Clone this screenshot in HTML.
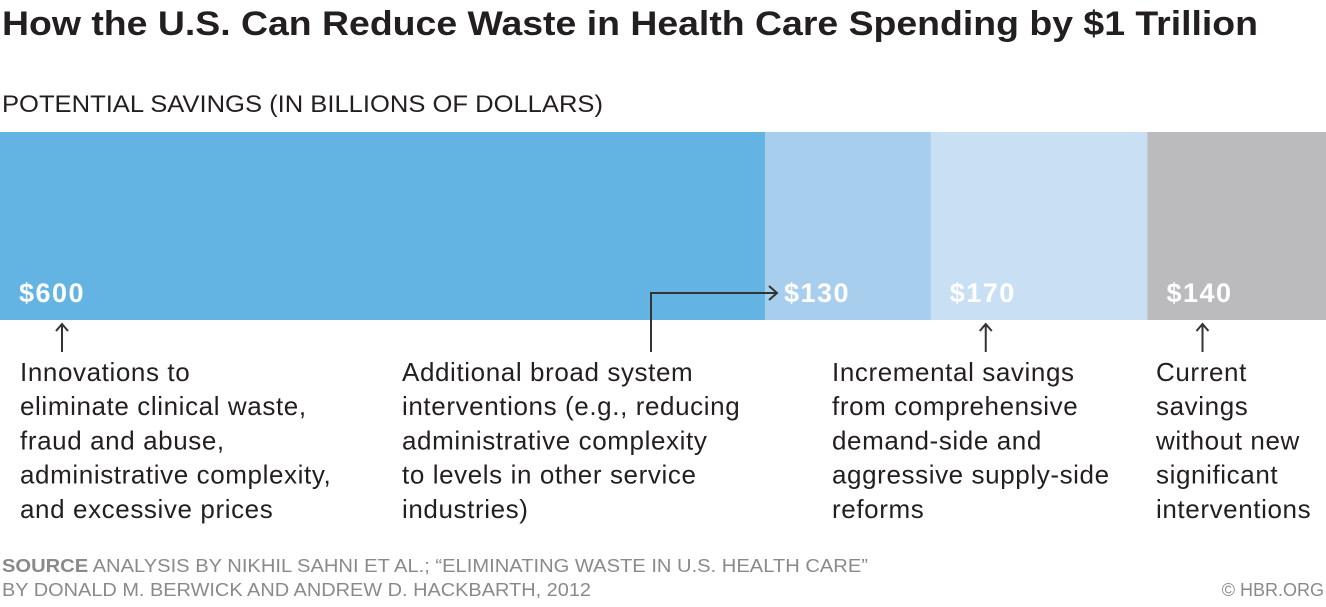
<!DOCTYPE html>
<html><head><meta charset="utf-8"><style>
body{margin:0;width:1326px;height:602px;background:#fff;overflow:hidden;font-family:"Liberation Sans",sans-serif;}
</style></head><body>
<svg width="1326" height="602" viewBox="0 0 1326 602">
<text x="2" y="35" font-size="34" font-weight="bold" fill="#231f20" textLength="1256" lengthAdjust="spacingAndGlyphs">How the U.S. Can Reduce Waste in Health Care Spending by $1 Trillion</text>
<text x="2" y="112" font-size="24" fill="#231f20" textLength="601" lengthAdjust="spacingAndGlyphs">POTENTIAL SAVINGS (IN BILLIONS OF DOLLARS)</text>
<g id="bars"></g>
<g id="notes" font-size="26" fill="#231f20" letter-spacing="0.6"></g>
<g stroke="#333" stroke-width="2" fill="none">
<polyline points="651,352 651,293 776,293"/><polyline points="769,286 777,293 769,300"/>
</g>
<text x="2" y="572" font-size="18" fill="#8a8a8a" textLength="866" lengthAdjust="spacingAndGlyphs"><tspan font-weight="bold">SOURCE</tspan>  ANALYSIS BY NIKHIL SAHNI ET AL.; “ELIMINATING WASTE IN U.S. HEALTH CARE”</text>
<text x="2" y="596" font-size="18" fill="#8a8a8a" textLength="589" lengthAdjust="spacingAndGlyphs">BY DONALD M. BERWICK AND ANDREW D. HACKBARTH, 2012</text>
<text x="1324" y="596" font-size="18" fill="#8a8a8a" text-anchor="end">© HBR.ORG</text>
</svg>
<script>
const categories=["Innovations","Broad system","Incremental","Current"];
const values=[600,130,170,140];
const labels=["$600","$130","$170","$140"];
const colors=["#63b3e3","#a7cfed","#c9e0f4","#bbbbbe"];
const notes=[
["Innovations to","eliminate clinical waste,","fraud and abuse,","administrative complexity,","and excessive prices"],
["Additional broad system","interventions (e.g., reducing","administrative complexity","to levels in other service","industries)"],
["Incremental savings","from comprehensive","demand-side and","aggressive supply-side","reforms"],
["Current","savings","without new","significant","interventions"]];
const noteX=[20,402,832,1156];
const arrowIdx=[0,2,3];
const NS="http://www.w3.org/2000/svg";
const total=values.reduce((a,b)=>a+b,0);
const W=1326, sx=v=>v*W/total;
const bars=document.getElementById('bars'), ng=document.getElementById('notes');
let acc=0;
values.forEach((v,i)=>{
  const x=sx(acc), w=sx(v);
  const r=document.createElementNS(NS,'rect');
  r.setAttribute('x',x);r.setAttribute('y',132);r.setAttribute('width',w+0.5);r.setAttribute('height',188);r.setAttribute('fill',colors[i]);
  
  
  bars.appendChild(r);
  const t=document.createElementNS(NS,'text');
  t.setAttribute('x',x+19);t.setAttribute('y',302);t.setAttribute('font-size','27');t.setAttribute('font-weight','bold');t.setAttribute('fill','#fff');t.setAttribute('letter-spacing','1.5');
  t.textContent=labels[i];
  
  
  bars.appendChild(t);
  if(arrowIdx.includes(i)){
    const ax=x+(i==0?62:55);
    const p=document.createElementNS(NS,'path');
    p.setAttribute('d',`M${ax},352 V324 M${ax-6},331 L${ax},324 L${ax+6},331`);
    p.setAttribute('stroke','#333');p.setAttribute('stroke-width','2');p.setAttribute('fill','none');
    
    
    bars.appendChild(p);
  }
  const tx=document.createElementNS(NS,'text');
  
  
  notes[i].forEach((line,j)=>{
    const s=document.createElementNS(NS,'tspan');
    s.setAttribute('x',noteX[i]);s.setAttribute('y',381+j*34.2);s.textContent=line;tx.appendChild(s);
  });
  ng.appendChild(tx);
  acc+=v;
});
</script>
</body></html>
